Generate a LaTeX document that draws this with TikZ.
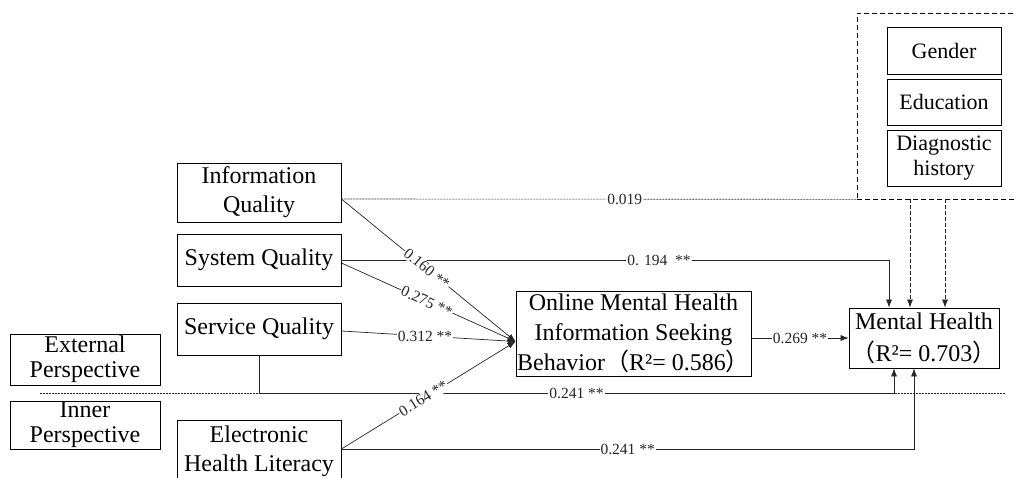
\documentclass[tikz,border=0pt]{standalone}
\usepackage{fontspec}
\setmainfont{Liberation Serif}
\newfontfamily\cjk{Noto Sans CJK SC}
\usetikzlibrary{arrows.meta}

% full-width brackets
\newcommand\fwl{{\cjk （}}
\newcommand\fwr{{\cjk ）}}

\tikzset{
  box/.style={draw, line width=0.8pt, align=center, inner sep=0pt,
    font=\fontsize{24}{29}\selectfont},
  smallbox/.style={box, font=\fontsize{22}{25}\selectfont},
  lbl/.style={fill=white, inner sep=1pt, font=\fontsize{15.5}{16}\selectfont},
  conn/.style={line width=0.7pt, black!85},
  arr/.style={conn, -{Latex[length=8pt,width=6pt]}},
  finedot/.style={conn, line width=0.6pt, dash pattern=on 2pt off 1pt},
  ctrlline/.style={arr, dash pattern=on 4pt off 2pt},
}

\begin{document}
\begin{tikzpicture}[x=1pt, y=-1pt]
\clip (0,0) rectangle (1016,478);
\fill[white] (0,0) rectangle (1016,478);

% control variables
\node[draw, line width=0.7pt, dash pattern=on 5pt off 3pt,
      minimum width=173pt, minimum height=186pt] (ctrl) at (943.5,106) {};
\node[smallbox, minimum width=114pt, minimum height=47pt] (gen) at (944,50.5) {Gender};
\node[smallbox, minimum width=114pt, minimum height=46pt] (edu) at (944,102) {Education};
\node[smallbox, minimum width=114pt, minimum height=56pt] (dia) at (944,158) {Diagnostic\\history};

% antecedents
\node[box, minimum width=164pt, minimum height=59pt] (iq) at (259,192.5) {Information\\Quality};
\node[box, minimum width=164pt, minimum height=52pt] (sq) at (259,260) {System Quality};
\node[box, minimum width=164pt, minimum height=52pt] (svq) at (259,329) {Service Quality};
\node[box, minimum width=164pt, anchor=north, inner ysep=5pt,
      font=\fontsize{24}{29}\selectfont] (ehl) at (259,420) {Electronic\\Health Literacy\\[4pt]};

% perspective labels
\node[box, font=\fontsize{24}{25}\selectfont, minimum width=150pt, minimum height=51pt] (ep) at (85,359.5) {External\\Perspective};
\node[box, font=\fontsize{24}{25}\selectfont, minimum width=150pt, minimum height=48pt] (ip) at (85,425) {Inner\\Perspective};

% mediator and outcome
\node[box, font=\fontsize{24}{30}\selectfont, minimum width=235pt, minimum height=85pt] (omh) at (633.5,333.5)
  {Online Mental Health\\Information Seeking\\Behavior\fwl R²= 0.586\fwr};
\node[box, font=\fontsize{24}{32}\selectfont, minimum width=150pt, minimum height=60pt] (mh) at (924,338)
  {Mental Health\\\fwl R²= 0.703\fwr};

% divider between the two perspectives
\coordinate (divL) at (40,393);
\coordinate (divR) at (1005,393);
\draw[finedot] (divL) -- (divR);

% direct paths to mental health
\draw[finedot] ([yshift=-6.5pt]iq.east) -- node[lbl, pos=0.55] {0.019} (ctrl.south west);
\draw[arr] (sq.east) -| node[lbl, pos=0.29] {0. 194 ~**} ([xshift=-35pt]mh.north);
\coordinate (svturn) at (894,393);
\draw[arr] (svq.south) |- (svturn) node[lbl, pos=0.75] {0.241 **} -- ([xshift=-30pt]mh.south);
\draw[arr] ([yshift=-29pt]ehl.north east) -| node[lbl, pos=0.25] {0.241 **} ([xshift=-10pt]mh.south);

% control variable paths
\draw[ctrlline] ([xshift=-33.5pt]ctrl.south) -- ([xshift=-14pt]mh.north);
\draw[ctrlline] ([xshift=1.5pt]ctrl.south) -- ([xshift=21pt]mh.north);

% paths to the mediator
\coordinate (tip) at ([yshift=-8pt]omh.west);
\draw[arr] ([yshift=-6.5pt]iq.east) -- node[lbl, sloped, pos=0.49] {0.160 **} (tip);
\draw[arr] ([yshift=-3pt]sq.east) -- node[lbl, sloped, pos=0.49] {0.275 **} (tip);
\draw[arr] ([yshift=-2pt]svq.east) -- node[lbl, pos=0.48] {0.312 **} (tip);
\draw[arr] ([yshift=-29pt]ehl.north east) -- node[lbl, sloped, pos=0.47] {0.164 **} (tip);

% mediator to outcome
\draw[arr] ([yshift=-4.5pt]omh.east) -- node[lbl] {0.269 **} (mh.west);
\end{tikzpicture}
\end{document}
